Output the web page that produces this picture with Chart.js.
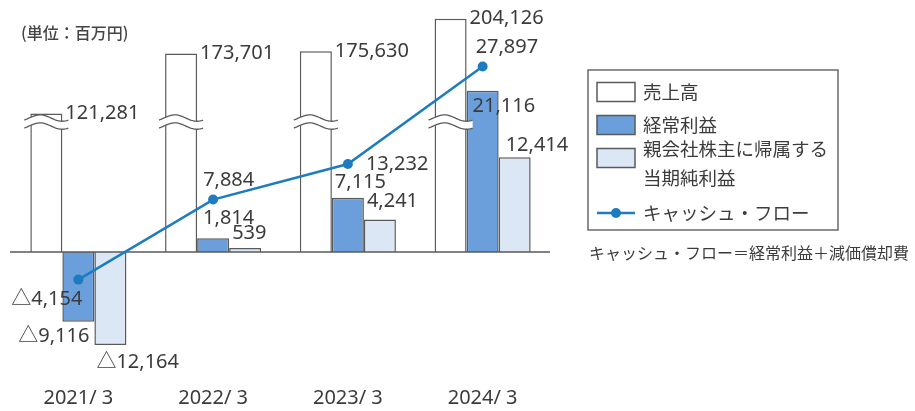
<!DOCTYPE html>
<html>
<head>
<meta charset="utf-8">
<script src="https://cdn.jsdelivr.net/npm/chart.js@4.4.1/dist/chart.umd.min.js"></script>
<style>
  html, body { margin: 0; padding: 0; background: #fff; }
  #wrap { width: 915px; height: 411px; }
</style>
</head>
<body>
<div id="wrap"><canvas id="chart"></canvas></div>
<script>
// data (百万円)
const years = ['2021/ 3', '2022/ 3', '2023/ 3', '2024/ 3'];
const sales = [121281, 173701, 175630, 204126];          // 売上高
const ordinaryProfit = [-9116, 1814, 7115, 21116];       // 経常利益
const netProfit = [-12164, 539, 4241, 12414];            // 親会社株主に帰属する当期純利益
const cashFlow = [-4154, 7884, 13232, 27897];            // キャッシュ・フロー
const seriesNames = ['売上高', '経常利益', ['親会社株主に帰属する', '当期純利益'], 'キャッシュ・フロー'];
const unitNote = '(単位：百万円)';
const formulaNote = 'キャッシュ・フロー＝経常利益＋減価償却費';

const TEXT = '#3b3b3b';
const EDGE = '#5a5a5a';
const NUM_FONT = '20px "Noto Sans", "Noto Sans CJK JP", sans-serif';
const JP_FONT = '"Noto Sans CJK JP", sans-serif';

// all three hidden axes share the zero line: px above / below zero
const PX_UP = 240, PX_DOWN = 130;
function axisRange(pxPer1000) {
    return { min: -PX_DOWN / pxPer1000 * 1000, max: PX_UP / pxPer1000 * 1000 };
}

// where each value label sits, relative to its bar end / point
const labelSpots = [
    [{edge: 'right', dx: 3, dy: 0}, {edge: 'right', dx: 3, dy: 0}, {edge: 'right', dx: 3, dy: 0}, {edge: 'right', dx: 3, dy: 0}],
    [{edge: 'right', dx: -5, dy: 15, align: 'right'}, {edge: 'left', dx: 6, dy: -20}, {edge: 'left', dx: 3, dy: -15}, {edge: 'left', dx: 6, dy: 16}],
    [{edge: 'left', dx: 2, dy: 17}, {edge: 'left', dx: 3, dy: -15}, {edge: 'left', dx: 3, dy: -18}, {edge: 'left', dx: 7, dy: -12}],
    [{dx: 4, dy: 20, align: 'right'}, {dx: -10, dy: -19}, {dx: 18, dy: 0}, {dx: -7, dy: -19}]
];

function fmt(v) {
    const s = Math.abs(v).toLocaleString('en-US');
    return v < 0 ? '△' + s : s;
}

function waveY(t, y) {
    return y + 2 * Math.cos(t * 2 * Math.PI) - 2.5 * Math.sin(t * 2 * Math.PI);
}
function wave(ctx, x0, x1, y) {
    const n = 30;
    ctx.moveTo(x0, waveY(0, y));
    for (let i = 1; i <= n; i++) {
        const t = i / n;
        ctx.lineTo(x0 + (x1 - x0) * t, waveY(t, y));
    }
}

const BREAK_AT = 113700; // sales value where the bars are cut

const decorations = {
    id: 'decorations',
    afterDatasetDraw(chart, args) {
        if (args.index !== 0) return;
        const ctx = chart.ctx;
        const area = chart.chartArea;
        // zero line
        const y0 = chart.scales.yBar.getPixelForValue(0);
        ctx.save();
        ctx.strokeStyle = EDGE;
        ctx.lineWidth = 1.6;
        ctx.beginPath();
        ctx.moveTo(area.left - 1, y0);
        ctx.lineTo(area.right, y0);
        ctx.stroke();
        // broken-bar marks on 売上高
        const yb = chart.scales.ySales.getPixelForValue(BREAK_AT);
        chart.getDatasetMeta(0).data.forEach(bar => {
            const x0 = bar.x - bar.width / 2 - 6, x1 = bar.x + bar.width / 2 + 6;
            ctx.beginPath();
            wave(ctx, x0, x1, yb - 4);
            const n = 30;
            for (let i = n; i >= 0; i--) {
                const t = i / n;
                ctx.lineTo(x0 + (x1 - x0) * t, waveY(t, yb + 4));
            }
            ctx.closePath();
            ctx.fillStyle = '#fff';
            ctx.fill();
            ctx.lineWidth = 1.3;
            ctx.beginPath();
            wave(ctx, x0, x1, yb - 4);
            ctx.stroke();
            ctx.beginPath();
            wave(ctx, x0, x1, yb + 4);
            ctx.stroke();
        });
        ctx.restore();
    },
    afterDatasetsDraw(chart) {
        const ctx = chart.ctx;
        ctx.save();
        ctx.fillStyle = TEXT;
        ctx.font = NUM_FONT;
        ctx.textBaseline = 'middle';
        chart.data.datasets.forEach((ds, di) => {
            chart.getDatasetMeta(di).data.forEach((el, i) => {
                const spot = labelSpots[di][i];
                let x = el.x;
                if (spot.edge === 'left') x = el.x - el.width / 2;
                if (spot.edge === 'right') x = el.x + el.width / 2;
                ctx.textAlign = spot.align || 'left';
                ctx.fillText(fmt(ds.data[i]), x + spot.dx, el.y + spot.dy);
            });
        });

        // unit note
        ctx.font = '500 16px ' + JP_FONT;
        ctx.textAlign = 'left';
        ctx.fillStyle = '#444';
        ctx.fillText(unitNote, 21, 33);

        // legend box
        const lx = 588, ly = 70;
        ctx.strokeStyle = '#6a6a6a';
        ctx.lineWidth = 1.5;
        ctx.strokeRect(lx, ly, 250, 160);
        const rows = [92, 125, 158, 213];
        ctx.font = '18.5px ' + JP_FONT;
        chart.data.datasets.forEach((ds, di) => {
            const cy = rows[di];
            if (ds.type === 'line') {
                ctx.strokeStyle = ds.borderColor;
                ctx.lineWidth = 2.5;
                ctx.beginPath();
                ctx.moveTo(lx + 9, cy);
                ctx.lineTo(lx + 47, cy);
                ctx.stroke();
                ctx.fillStyle = ds.borderColor;
                ctx.beginPath();
                ctx.arc(lx + 28, cy, 5, 0, Math.PI * 2);
                ctx.fill();
            } else {
                ctx.fillStyle = ds.backgroundColor;
                ctx.fillRect(lx + 9, cy - 9.5, 38, 19);
                ctx.strokeStyle = EDGE;
                ctx.lineWidth = 1.5;
                ctx.strokeRect(lx + 9, cy - 9.5, 38, 19);
            }
            ctx.fillStyle = TEXT;
            const name = seriesNames[di];
            if (Array.isArray(name)) {
                ctx.fillText(name[0], lx + 55, cy - 9);
                ctx.fillText(name[1], lx + 55, cy + 20);
            } else {
                ctx.fillText(name, lx + 55, cy);
            }
        });

        ctx.font = '16px ' + JP_FONT;
        ctx.fillText(formulaNote, 589, 253);
        ctx.restore();
    }
};

const ctx = document.getElementById('chart').getContext('2d');
new Chart(ctx, {
    data: {
        labels: years,
        datasets: [
            {
                type: 'bar', label: '売上高', data: sales, yAxisID: 'ySales', order: 1,
                backgroundColor: '#ffffff', borderColor: EDGE, borderWidth: 1.5
            },
            {
                type: 'bar', label: '経常利益', data: ordinaryProfit, yAxisID: 'yBar', order: 1,
                backgroundColor: '#6b9fdb', borderColor: EDGE, borderWidth: 1.5
            },
            {
                type: 'bar', label: '親会社株主に帰属する当期純利益', data: netProfit, yAxisID: 'yBar', order: 1,
                backgroundColor: '#dce7f5', borderColor: EDGE, borderWidth: 1.5
            },
            {
                type: 'line', label: 'キャッシュ・フロー', data: cashFlow, yAxisID: 'yLine', order: 0,
                borderColor: '#1d7cc0', backgroundColor: '#1d7cc0', borderWidth: 2.5,
                pointRadius: 5, pointBackgroundColor: '#1d7cc0', pointBorderWidth: 0, tension: 0
            }
        ]
    },
    options: {
        responsive: true,
        maintainAspectRatio: false,
        animation: false,
        layout: { padding: { left: 11, right: 365, top: 12, bottom: 0 } },
        datasets: { bar: { categoryPercentage: 0.713, barPercentage: 1 } },
        scales: {
            x: {
                grid: { display: false, drawTicks: false },
                border: { display: false },
                ticks: { color: TEXT, padding: 4, font: { family: '"Noto Sans", sans-serif', size: 20 } },
                afterFit(scale) { scale.height = 29; }
            },
            ySales: { display: false, ...axisRange(1.143) },
            yBar: { display: false, ...axisRange(7.64) },
            yLine: { display: false, ...axisRange(6.65) }
        },
        plugins: {
            legend: { display: false },
            tooltip: { enabled: false }
        }
    },
    plugins: [decorations]
});
</script>
</body>
</html>
